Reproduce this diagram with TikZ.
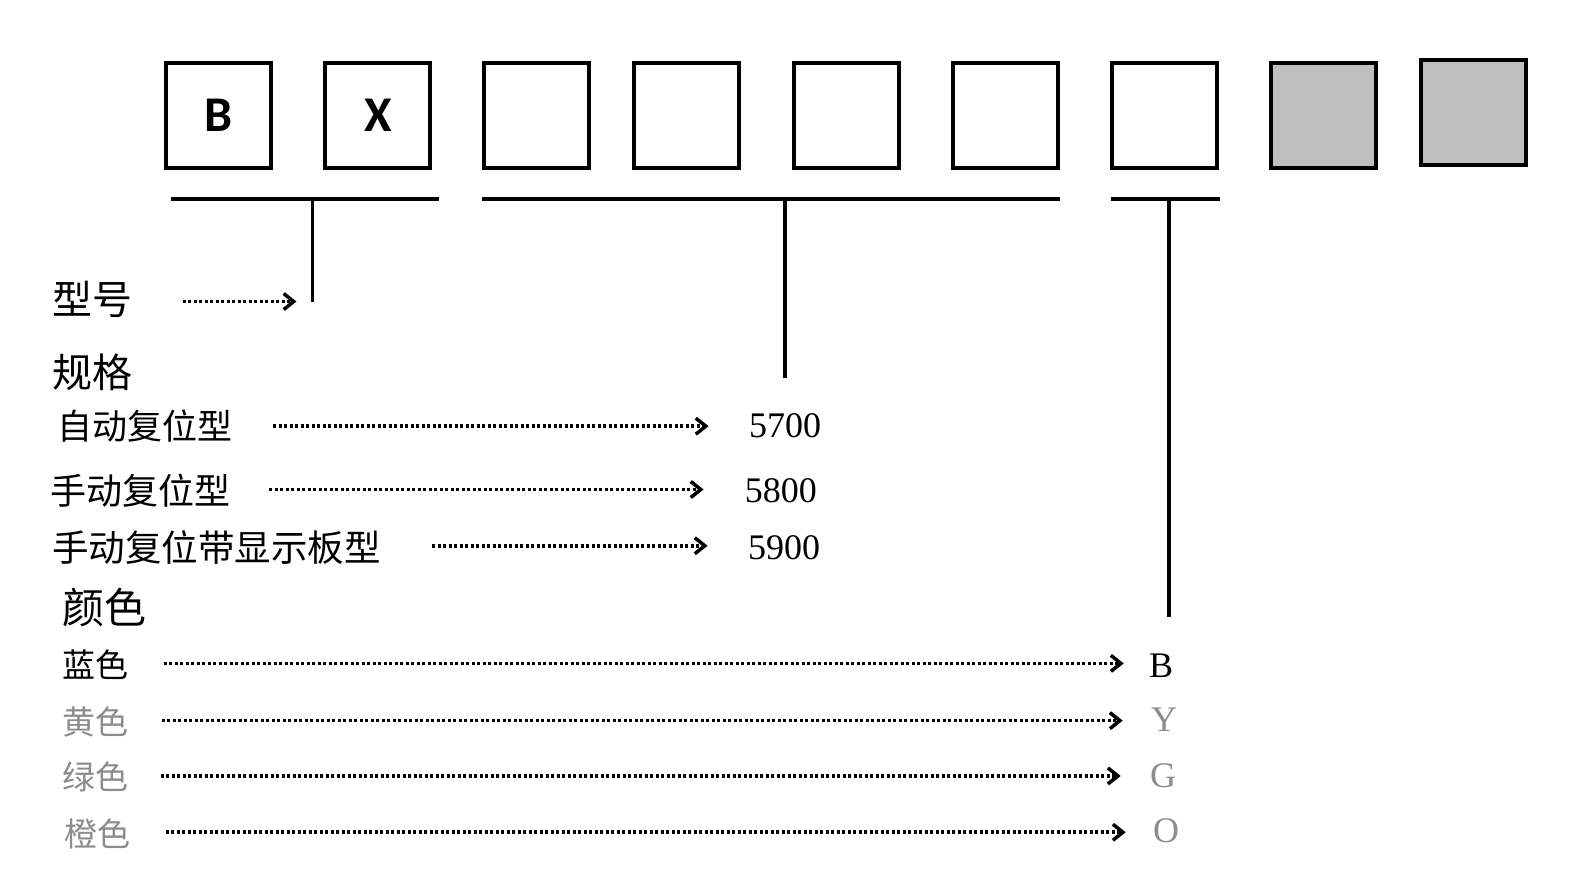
\documentclass[tikz,border=0pt]{standalone}
\usepackage{fontspec}
\setmainfont{Liberation Serif}
\newfontfamily\cjk{Noto Sans CJK SC}
\newfontfamily\boxfont{Carlito}
\usetikzlibrary{arrows.meta}
\definecolor{boxgray}{HTML}{BFBFBF}
\definecolor{txtgray}{HTML}{8C8C8C}

\begin{document}
\begin{tikzpicture}[x=1.005pt,y=-1.005pt,
    digit/.style={draw,line width=4pt,minimum size=105pt,inner sep=0pt,font=\boxfont\bfseries\fontsize{50}{50}\selectfont},
    label/.style={anchor=west,inner sep=0pt,font=\cjk\fontsize{#1}{#1}\selectfont},
    code/.style={anchor=west,inner sep=0pt,font=\fontsize{36}{36}\selectfont},
    dotarrow/.style={line width=3.5pt,dash pattern=on 3pt off 2.5pt,-{Straight Barb[length=10pt,width=16pt,line width=3.5pt]}},
    bar/.style={line width=3.5pt}]

\useasboundingbox (0,0) rectangle (1568,886);

    % code boxes
    \foreach \n/\x/\t in {1/217/B,2/376/X,3/534/,4/683/,5/842/,6/1000/,7/1159/}
        \node[digit] (b\n) at (\x,115) {\t};
    \node[digit,fill=boxgray] (b8) at (1317,115) {};
    \node[digit,fill=boxgray] (b9) at (1466,112) {};

    % brackets
    \draw[bar] (170,198) -- (437,198);
    \draw[bar] (480,198) -- (1055,198);
    \draw[bar] (1105,198) -- (1214,198);
    \coordinate (t1) at (311,198);
    \coordinate (t2) at (781,198);
    \coordinate (t3) at (1163,198);
    \coordinate (e1) at (311,300);
    \coordinate (e2) at (781,376);
    \coordinate (e3) at (1163,614);
    \draw[bar] (t1) -- (e1);
    \draw[bar] (t2) -- (e2);
    \draw[bar] (t3) -- (e3);

    % model
    \node[label=40] (xh) at (52,298) {型号};
    \coordinate (xhend) at (295,300);
    \draw[dotarrow] (182,300) -- (xhend);

    % specification
    \node[label=40] (gg) at (52,370) {规格};
    \node[label=35] (s1) at (57,424) {自动复位型};
    \node[label=36] (s2) at (50,488) {手动复位型};
    \node[label=36.5] (s3) at (52,545) {手动复位带显示板型};
    \node[code] (n1) at (745,424) {5700};
    \node[code] (n2) at (741,488) {5800};
    \node[code] (n3) at (744,545) {5900};
    \draw[dotarrow] (272,424) -- (705,424);
    \draw[dotarrow] (268,487) -- (700,487);
    \draw[dotarrow] (430,543) -- (704,543);

    % colour
    \node[label=42] (ys) at (62,604) {颜色};
    \node[label=33] (c1) at (62,661) {蓝色};
    \node[label=33,text=txtgray] (c2) at (62,718) {黄色};
    \node[label=33,text=txtgray] (c3) at (62,773) {绿色};
    \node[label=33,text=txtgray] (c4) at (64,830) {橙色};
    \node[code] (l1) at (1143,662) {B};
    \node[code,text=txtgray] (l2) at (1145,716) {Y};
    \node[code,text=txtgray] (l3) at (1144,772) {G};
    \node[code,text=txtgray] (l4) at (1147,827) {O};
    \draw[dotarrow] (163,660) -- (1118,660);
    \draw[dotarrow] (161,717) -- (1117,717);
    \draw[dotarrow] (160,772) -- (1115,772);
    \draw[dotarrow] (165,828) -- (1120,828);

\end{tikzpicture}
\end{document}
